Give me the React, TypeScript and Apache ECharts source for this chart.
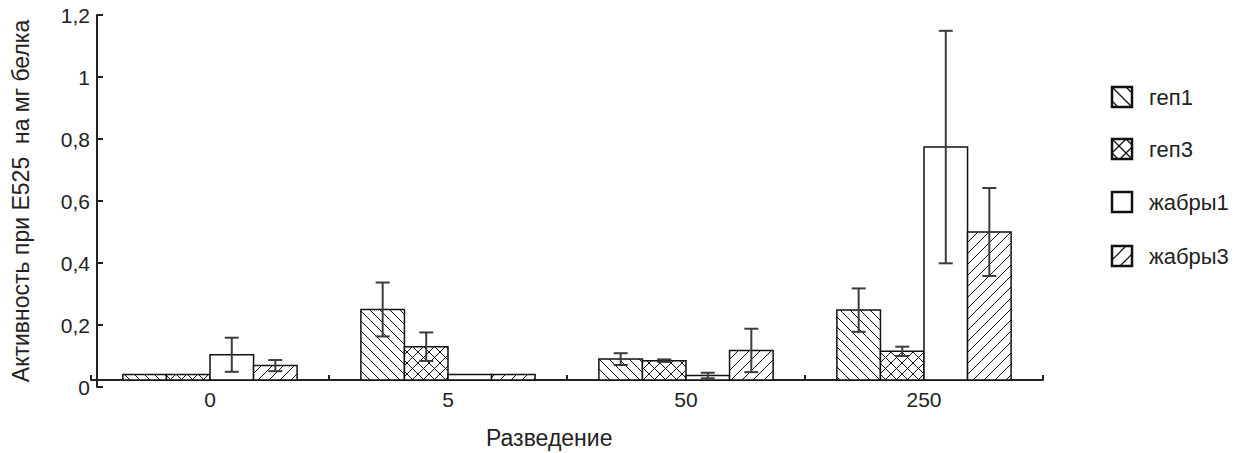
import React, { useEffect, useRef } from "react";
import * as echarts from "echarts";

// ---- data ----
const categories = ["0", "5", "50", "250"];
const seriesNames = ["геп1", "геп3", "жабры1", "жабры3"];
const gep1 = [0.04, 0.25, 0.09, 0.248];
const gep1Err = [0, 0.087, 0.019, 0.07];
const gep3 = [0.04, 0.13, 0.085, 0.115];
const gep3Err = [0, 0.046, 0.004, 0.015];
const gills1 = [0.104, 0.04, 0.037, 0.774];
const gills1Err = [0.055, 0, 0.009, 0.375];
const gills3 = [0.069, 0.04, 0.118, 0.5];
const gills3Err = [0.018, 0, 0.07, 0.142];
const yMin = 0;
const yMax = 1.2;
const yStep = 0.2;
// value at which the category axis crosses the value axis
const AXIS_CROSS = 0.0226;

const yAxisName = "Активность при E525  на мг белка";
const xAxisName = "Разведение";

const FONT = "'Liberation Sans', Arial, sans-serif";
const TEXT = "#222";
const INK = "#111";

const values = [gep1, gep3, gills1, gills3];
const errors = [gep1Err, gep3Err, gills1Err, gills3Err];
const patterns = ["back", "cross", "none", "fwd"];
const spacings = [10, 11, 10, 11];

const GRID = { left: 91, top: 15, width: 952, height: 372 };
const BAR_FRAC = 0.183;

function hatchLines(x0: number, y0: number, w: number, h: number, kind: string, s: number) {
  const x1 = x0 + w;
  const y1 = y0 + h;
  const out: number[][] = [];
  if (kind === "back" || kind === "cross") {
    for (let k = Math.ceil((x0 - y1) / s); k * s <= x1 - y0; k++) {
      const c = k * s;
      const xs = Math.max(x0, y0 + c);
      const xe = Math.min(x1, y1 + c);
      if (xe - xs > 0.5) out.push([xs, xs - c, xe, xe - c]);
    }
  }
  if (kind === "fwd" || kind === "cross") {
    for (let k = Math.ceil((x0 + y0) / s); k * s <= x1 + y1; k++) {
      const c = k * s;
      const xs = Math.max(x0, c - y1);
      const xe = Math.min(x1, c - y0);
      if (xe - xs > 0.5) out.push([xs, c - xs, xe, c - xe]);
    }
  }
  return out;
}

function makeRenderItem(slot: number) {
  return (params: any, api: any) => {
    const idx = api.value(0);
    const val = api.value(1);
    const err = api.value(2);
    const band = api.size([1, 0])[0];
    const bw = band * BAR_FRAC;
    const center = api.coord([idx, 0])[0];
    const x = center + (slot - 2) * bw;
    const yTop = api.coord([idx, val])[1];
    const yBase = api.coord([idx, AXIS_CROSS])[1];
    const h = yBase - yTop;
    const children: any[] = [];
    children.push({
      type: "rect",
      shape: { x, y: yTop, width: bw, height: h },
      style: { fill: "#fff", stroke: "none" },
    });
    hatchLines(x, yTop, bw, h, patterns[slot], spacings[slot]).forEach((l) => {
      children.push({
        type: "line",
        shape: { x1: l[0], y1: l[1], x2: l[2], y2: l[3] },
        style: { stroke: INK, lineWidth: 1 },
      });
    });
    children.push({
      type: "rect",
      shape: { x, y: yTop, width: bw, height: h },
      style: { fill: "none", stroke: INK, lineWidth: 1.5 },
    });
    if (err > 0) {
      const cx = x + bw / 2;
      const yHi = api.coord([idx, val + err])[1];
      const yLo = api.coord([idx, val - err])[1];
      const es = { stroke: "#3c3c3c", lineWidth: 2 };
      children.push({ type: "line", shape: { x1: cx, y1: yHi, x2: cx, y2: yLo }, style: es });
      children.push({ type: "line", shape: { x1: cx - 7, y1: yHi, x2: cx + 7, y2: yHi }, style: es });
      children.push({ type: "line", shape: { x1: cx - 7, y1: yLo, x2: cx + 7, y2: yLo }, style: es });
    }
    return { type: "group", children };
  };
}

function legendGraphic() {
  const rows = [97, 149, 202, 256];
  return seriesNames.map((name, i) => {
    const children: any[] = [
      { type: "rect", shape: { x: 0, y: 0, width: 20, height: 20 }, style: { fill: "#fff", stroke: "none" } },
    ];
    hatchLines(0, 0, 20, 20, patterns[i], 14).forEach((l) => {
      children.push({
        type: "line",
        shape: { x1: l[0], y1: l[1], x2: l[2], y2: l[3] },
        style: { stroke: INK, lineWidth: 1.2 },
      });
    });
    children.push({
      type: "rect",
      shape: { x: 0, y: 0, width: 20, height: 20 },
      style: { fill: "none", stroke: INK, lineWidth: 2.5 },
    });
    children.push({
      type: "text",
      x: 37,
      y: 10,
      style: { text: name, font: `22px ${FONT}`, fill: TEXT, textVerticalAlign: "middle", textAlign: "left" },
    });
    return { type: "group", x: 1112, y: rows[i] - 10, children };
  });
}

export default function App() {
  const ref = useRef<HTMLDivElement>(null);
  useEffect(() => {
    document.body.style.margin = "0";
    if (!ref.current) return;
    const chart = echarts.init(ref.current, undefined, { renderer: "svg" });
    const crossOffset = -((AXIS_CROSS - yMin) / (yMax - yMin)) * GRID.height;
    chart.setOption({
      animation: false,
      backgroundColor: "#fff",
      textStyle: { fontFamily: FONT },
      grid: { ...GRID, containLabel: false },
      xAxis: {
        type: "category",
        data: categories,
        boundaryGap: true,
        offset: crossOffset,
        axisLine: { onZero: false, lineStyle: { color: "#222", width: 2 } },
        axisTick: { show: true, inside: true, length: 5, lineStyle: { color: "#222", width: 2 } },
        axisLabel: { fontSize: 21, color: TEXT, margin: 9, fontFamily: FONT },
        splitLine: { show: false },
      },
      yAxis: {
        type: "value",
        min: yMin,
        max: yMax,
        interval: yStep,
        offset: -6,
        axisLine: { show: true, onZero: false, lineStyle: { color: "#222", width: 2 } },
        axisTick: { show: true, inside: true, length: 6, lineStyle: { color: "#222", width: 2 } },
        axisLabel: {
          fontSize: 21,
          color: TEXT,
          margin: 7,
          fontFamily: FONT,
          formatter: (v: number) => String(Math.round(v * 10) / 10).replace(".", ","),
        },
        splitLine: { show: false },
        name: yAxisName,
        nameLocation: "middle",
        nameGap: 65,
        nameTextStyle: { fontSize: 23, color: TEXT, fontFamily: FONT },
      },
      series: seriesNames.map((name, s) => ({
        type: "custom",
        name,
        renderItem: makeRenderItem(s),
        encode: { x: 0, y: 1 },
        data: categories.map((_, i) => [i, values[s][i], errors[s][i]]),
        clip: false,
      })),
      graphic: [
        {
          type: "text",
          left: 486,
          top: 426,
          style: { text: xAxisName, font: `23px ${FONT}`, fill: TEXT },
        },
        ...legendGraphic(),
      ],
    });
    return () => chart.dispose();
  }, []);
  return <div ref={ref} style={{ width: 1242, height: 453 }} />;
}
